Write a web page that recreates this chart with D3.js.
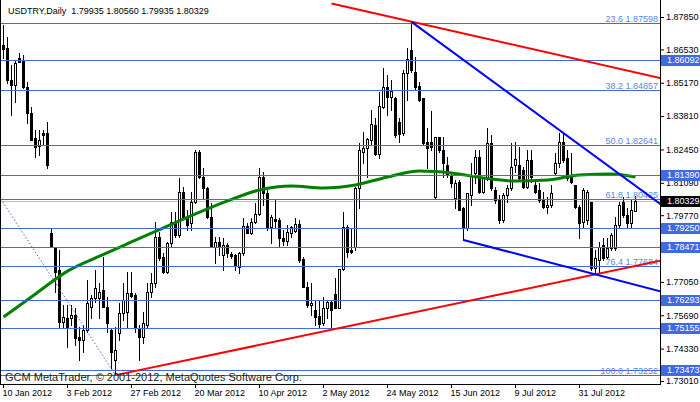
<!DOCTYPE html>
<html><head><meta charset="utf-8">
<script src="https://cdn.jsdelivr.net/npm/d3@7"></script>
<style>
html,body{margin:0;padding:0;background:#fff;}
svg{display:block;font-family:"Liberation Sans",Arial,sans-serif;}
</style></head><body>
<svg id="c" width="700" height="402"></svg>
<script>
// ---------- DATA ----------
const openP = [1.8671,1.8658,1.8528,1.8508,1.8618,1.8610,1.8500,1.8394,1.8292,1.8259,1.8312,1.8312,1.7904,1.7847,1.7754,1.7541,1.7558,1.7558,1.7570,1.7480,
1.7468,1.7509,1.7602,1.7639,1.7639,1.7672,1.7602,1.7509,1.7387,1.7497,1.7578,1.7582,1.7660,1.7651,1.7517,1.7480,1.7529,1.7664,1.7700,1.7888,
1.7806,1.7745,1.7864,1.7945,1.7896,1.8071,1.7970,1.7945,1.8031,1.8235,1.8133,1.8088,1.7970,1.7847,1.7868,1.7815,1.7855,1.7819,1.7815,1.7766,
1.7823,1.7933,1.7904,1.7949,1.7982,1.8133,1.8067,1.7929,1.7961,1.7957,1.7884,1.7872,1.7904,1.7912,1.7941,1.7798,1.7684,1.7611,1.7590,1.7566,
1.7537,1.7598,1.7623,1.7656,1.7598,1.7758,1.7929,1.7835,1.7847,1.8088,1.8235,1.8251,1.8284,1.8345,1.8226,1.8418,1.8500,1.8459,1.8455,1.8357,
1.8312,1.8557,1.8650,1.8561,1.8504,1.8455,1.8275,1.8275,1.8051,1.8296,1.8243,1.8181,1.8141,1.8047,1.8112,1.8006,1.7925,1.8059,1.8149,1.8214,
1.8071,1.8129,1.8271,1.8080,1.8039,1.7957,1.8059,1.8088,1.8181,1.8181,1.8161,1.8092,1.8202,1.8100,1.8080,1.8039,1.8010,1.8019,1.8149,1.8190,
1.8275,1.8210,1.8133,1.8100,1.8010,1.7949,1.7957,1.8031,1.7762,1.7794,1.7855,1.7806,1.7843,1.7843,1.7937,1.8031,1.7978,1.7945,1.79935];
const highP = [1.8753,1.8703,1.8590,1.8610,1.8638,1.8630,1.8520,1.8418,1.8324,1.8324,1.8324,1.8357,1.7925,1.7847,1.7835,1.7611,1.7611,1.7611,1.7598,1.7521,
1.7529,1.7713,1.7651,1.7754,1.7700,1.7806,1.7643,1.7517,1.7521,1.7619,1.7700,1.7745,1.7745,1.7660,1.7529,1.7582,1.7700,1.7741,1.7949,1.7908,
1.7823,1.7868,1.7990,1.7990,1.8129,1.8092,1.7998,1.8071,1.8243,1.8243,1.8169,1.8092,1.8027,1.7888,1.7888,1.7884,1.7864,1.7827,1.7819,1.7827,
1.7965,1.7945,1.7965,1.8027,1.8169,1.8153,1.8080,1.7978,1.8039,1.7965,1.7917,1.7937,1.7933,1.7965,1.7957,1.7806,1.7705,1.7700,1.7631,1.7631,
1.7643,1.7631,1.7631,1.7721,1.7758,1.7990,1.7937,1.7925,1.8092,1.8271,1.8316,1.8292,1.8406,1.8373,1.8479,1.8577,1.8549,1.8528,1.8459,1.8373,
1.8569,1.8658,1.8765,1.8622,1.8520,1.8455,1.8332,1.8402,1.8296,1.8296,1.8296,1.8214,1.8149,1.8120,1.8120,1.8010,1.8067,1.8190,1.8243,1.8243,
1.8133,1.8332,1.8304,1.8092,1.8059,1.8067,1.8100,1.8271,1.8275,1.8255,1.8173,1.8243,1.8243,1.8112,1.8108,1.8071,1.8051,1.8100,1.8230,1.8312,
1.8312,1.8243,1.8230,1.8100,1.8019,1.8088,1.8080,1.8031,1.7835,1.7868,1.7884,1.7884,1.7904,1.7970,1.8031,1.8051,1.8006,1.8039,1.80560];
const lowP = [1.8618,1.8516,1.8385,1.8439,1.8602,1.8496,1.8353,1.8284,1.8214,1.8222,1.8263,1.8169,1.7847,1.7664,1.7521,1.7517,1.7439,1.7529,1.7448,1.7387,
1.7419,1.7501,1.7558,1.7623,1.7558,1.7602,1.7501,1.7354,1.7325,1.7468,1.7550,1.7517,1.7643,1.7501,1.7387,1.7456,1.7517,1.7643,1.7684,1.7794,
1.7741,1.7741,1.7847,1.7888,1.7888,1.7965,1.7917,1.7917,1.8027,1.8129,1.8047,1.7965,1.7847,1.7782,1.7815,1.7754,1.7806,1.7802,1.7754,1.7741,
1.7815,1.7904,1.7900,1.7945,1.7978,1.8019,1.7917,1.7864,1.7929,1.7851,1.7855,1.7855,1.7888,1.7908,1.7786,1.7684,1.7602,1.7570,1.7529,1.7521,
1.7529,1.7558,1.7521,1.7598,1.7598,1.7754,1.7806,1.7823,1.7835,1.8006,1.8190,1.8133,1.8263,1.8222,1.8210,1.8414,1.8385,1.8406,1.8296,1.8275,
1.8304,1.8447,1.8561,1.8487,1.8443,1.8267,1.8169,1.8243,1.8047,1.8235,1.8133,1.8133,1.8092,1.8006,1.7998,1.7876,1.7917,1.8019,1.8108,1.8067,
1.8067,1.8120,1.8080,1.8027,1.7945,1.7949,1.8031,1.8080,1.8153,1.8120,1.8088,1.8088,1.8112,1.8067,1.8031,1.8006,1.7986,1.8010,1.8141,1.8173,
1.8194,1.8120,1.8108,1.8006,1.7884,1.7925,1.7941,1.7754,1.7741,1.7745,1.7794,1.7802,1.7835,1.7835,1.7929,1.7970,1.7929,1.7929,1.79935];
const closeP = [1.8654,1.8528,1.8508,1.8598,1.8602,1.8500,1.8394,1.8284,1.8255,1.8284,1.8304,1.8181,1.7847,1.7745,1.7541,1.7562,1.7517,1.7570,1.7476,1.7468,
1.7509,1.7619,1.7639,1.7680,1.7664,1.7602,1.7537,1.7419,1.7427,1.7578,1.7631,1.7660,1.7647,1.7517,1.7480,1.7537,1.7664,1.7700,1.7888,1.7802,
1.7745,1.7864,1.7949,1.7896,1.8071,1.7970,1.7937,1.8031,1.8235,1.8133,1.8088,1.7970,1.7847,1.7868,1.7847,1.7855,1.7823,1.7811,1.7770,1.7823,
1.7933,1.7904,1.7949,1.7982,1.8133,1.8067,1.7925,1.7970,1.7953,1.7884,1.7872,1.7908,1.7929,1.7941,1.7794,1.7684,1.7611,1.7619,1.7562,1.7533,
1.7598,1.7623,1.7590,1.7598,1.7758,1.7929,1.7827,1.7827,1.8088,1.8243,1.8251,1.8288,1.8349,1.8226,1.8422,1.8500,1.8459,1.8483,1.8304,1.8308,
1.8557,1.8614,1.8569,1.8500,1.8447,1.8271,1.8251,1.8255,1.8296,1.8243,1.8190,1.8141,1.8108,1.8108,1.7998,1.7925,1.8067,1.8141,1.8214,1.8071,
1.8129,1.8271,1.8088,1.8039,1.7957,1.8059,1.8088,1.8173,1.8206,1.8129,1.8092,1.8202,1.8133,1.8071,1.8039,1.8010,1.8019,1.8067,1.8190,1.8275,
1.8202,1.8129,1.8112,1.8010,1.7945,1.8080,1.8071,1.7762,1.7802,1.7847,1.7802,1.7843,1.7896,1.7937,1.8019,1.7978,1.7945,1.7998,1.80329];

const maBars = [0,8,16,24,32,40,48,56,64,72,80,88,96,104,112,120,128,136,144,152,158];
const maVals = [1.7562,1.7656,1.7749,1.7810,1.7868,1.7925,1.7982,1.8035,1.8080,1.8096,1.8088,1.8100,1.8133,1.8157,1.8149,1.8129,1.8116,1.8120,1.8141,1.8145,1.8133];

const dateTickBars = [0,16,32,48,64,80,96,112,128,144];
const dateLabels = ["10 Jan 2012","3 Feb 2012","27 Feb 2012","20 Mar 2012","10 Apr 2012","2 May 2012","24 May 2012","15 Jun 2012","9 Jul 2012","31 Jul 2012"];
const priceTicks = [1.87850,1.86530,1.85170,1.83810,1.82450,1.81090,1.79770,1.77050,1.75690,1.74330,1.73010];

const levelVals = [1.86092,1.81390,1.79250,1.78471,1.76293,1.75155,1.73473];
const fibPct = ["23.6","38.2","50.0","61.8","76.4","100.0"];
const fibVals = [1.87598,1.84857,1.82641,1.80425,1.77684,1.73252];
const lastPrice = 1.80329;
const headerText = "USDTRY,Daily  1.79935 1.80560 1.79935 1.80329";
const copyrightText = "GCM MetaTrader, \u00A9 2001-2012, MetaQuotes Software Corp.";

// trend lines: [startBar, startPrice, throughBar, throughPrice]
const redTop = [82, 1.8840, 164, 1.8537];
const redBottom = [28, 1.7325, 164, 1.7790];
const blueTop = [102, 1.8765, 164, 1.8027];
const blueBottom = [115, 1.7876, 164, 1.7668];
const fibDiag = [-47, 1.92029, 28, 1.73252];

// ---------- DRAW ----------
const W = 700, H = 402, PR = 660, PB = 384;
const svg = d3.select("#c");
svg.append("rect").attr("width",W).attr("height",H).attr("fill","#fff");

const x = d3.scaleLinear().domain([0,164]).range([3,659]);
const y = d3.scaleLinear().domain([1.73010,1.87850]).range([381,17]);
const cy = v => Math.round(y(v)) + 0.5;

svg.append("clipPath").attr("id","plot").append("rect")
  .attr("x",0).attr("y",0).attr("width",PR).attr("height",PB);
const plot = svg.append("g").attr("clip-path","url(#plot)");

// current price line
plot.append("line").attr("x1",0).attr("x2",PR).attr("y1",cy(lastPrice)).attr("y2",cy(lastPrice))
  .attr("stroke","#c0c0c0").attr("stroke-width",1);

// candles
const idx = d3.range(openP.length);
const cg = plot.append("g");
idx.forEach(i => {
  const cx = x(i) + 0.5;
  cg.append("line").attr("x1",cx).attr("x2",cx)
    .attr("y1",Math.round(y(highP[i]))).attr("y2",Math.round(y(lowP[i]))+1)
    .attr("stroke","#000").attr("stroke-width",1);
  const top = Math.round(y(Math.max(openP[i],closeP[i])));
  const bot = Math.round(y(Math.min(openP[i],closeP[i])));
  if (closeP[i] > openP[i]) {
    cg.append("rect").attr("x",cx-1).attr("y",top+0.5).attr("width",2)
      .attr("height",Math.max(1,bot-top)).attr("fill","#fff").attr("stroke","#000").attr("stroke-width",1);
  } else {
    cg.append("rect").attr("x",cx-1.5).attr("y",top).attr("width",3)
      .attr("height",Math.max(1,bot-top+1)).attr("fill","#000");
  }
});

// moving average
plot.append("path").datum(maBars.map((b,k)=>[b,maVals[k]]))
  .attr("d", d3.line().curve(d3.curveMonotoneX).x(d=>x(d[0])+0.5).y(d=>y(d[1])))
  .attr("fill","none").attr("stroke","#008000").attr("stroke-width",3);

// horizontal levels
const lineBlue = "#4169e1";
levelVals.concat(fibVals).forEach(v => {
  plot.append("line").attr("x1",0).attr("x2",PR).attr("y1",cy(v)).attr("y2",cy(v))
    .attr("stroke",lineBlue).attr("stroke-width",1);
});
// fib labels
fibVals.forEach((v,k) => {
  plot.append("text").attr("x",658).attr("y",cy(v)-2).attr("text-anchor","end")
    .attr("font-size",9).attr("fill","#5f82e6").text(fibPct[k]+" "+v.toFixed(5));
});

// trend lines (rays to right edge)
function ray(t, color, width) {
  const [b1,p1,b2,p2] = t;
  const bEnd = x.invert(PR+2);
  const pEnd = p1 + (p2-p1)*(bEnd-b1)/(b2-b1);
  plot.append("line").attr("x1",x(b1)+0.5).attr("y1",y(p1))
    .attr("x2",x(bEnd)).attr("y2",y(pEnd))
    .attr("stroke",color).attr("stroke-width",width);
}
function seg(t, color, width, dash) {
  const [b1,p1,b2,p2] = t;
  plot.append("line").attr("x1",x(b1)+0.5).attr("y1",y(p1)).attr("x2",x(b2)+0.5).attr("y2",y(p2))
    .attr("stroke",color).attr("stroke-width",width).attr("stroke-dasharray",dash);
}
seg(fibDiag, lineBlue, 1, "1.5,2");
ray(redTop, "#ff0000", 2);
ray(redBottom, "#ff0000", 2);
ray(blueTop, "#0000ff", 2);
ray(blueBottom, "#0000ff", 2);

// frame
svg.append("line").attr("x1",0.5).attr("x2",0.5).attr("y1",0).attr("y2",PB+0.5).attr("stroke","#000");

// texts
svg.append("text").attr("x",8).attr("y",14).attr("font-size",9).attr("fill","#000")
  .style("white-space","pre").text(headerText);
svg.append("text").attr("x",5).attr("y",381).attr("font-size",11).attr("fill","#222").text(copyrightText);

// right axis
const ra = svg.append("g").attr("transform",`translate(${PR},0)`)
  .call(d3.axisRight(y).tickValues(priceTicks).tickFormat(d3.format(".5f")).tickSize(4).tickPadding(2));
ra.select(".domain").attr("d",`M0.5,0V${PB+0.5}`).attr("stroke","#000");
ra.selectAll("text").attr("font-size",9).attr("fill","#000").attr("font-family","Liberation Sans, Arial, sans-serif");
ra.selectAll("line").attr("stroke","#000");

// bottom axis
const ba = svg.append("g").attr("transform",`translate(0,${PB})`)
  .call(d3.axisBottom(x).tickValues(dateTickBars).tickFormat((d,k)=>dateLabels[k]).tickSize(4));
ba.select(".domain").attr("d",`M0,0.5H${PR+1}`).attr("stroke","#000");
ba.selectAll("line").attr("stroke","#000");
ba.selectAll("text").attr("font-size",9).attr("fill","#000").attr("font-family","Liberation Sans, Arial, sans-serif")
  .attr("text-anchor","start").attr("x",-1).attr("y",6).attr("dy","0.71em");

// highlighted price boxes
function box(v, bg) {
  const yy = Math.round(y(v));
  svg.append("rect").attr("x",661).attr("y",yy-5).attr("width",39).attr("height",11).attr("fill",bg);
  svg.append("text").attr("x",667).attr("y",yy).attr("dy","0.34em").attr("font-size",9).attr("fill","#fff")
    .text(v.toFixed(5));
}
levelVals.forEach(v => box(v, lineBlue));
box(lastPrice, "#000");
</script>
</body></html>
